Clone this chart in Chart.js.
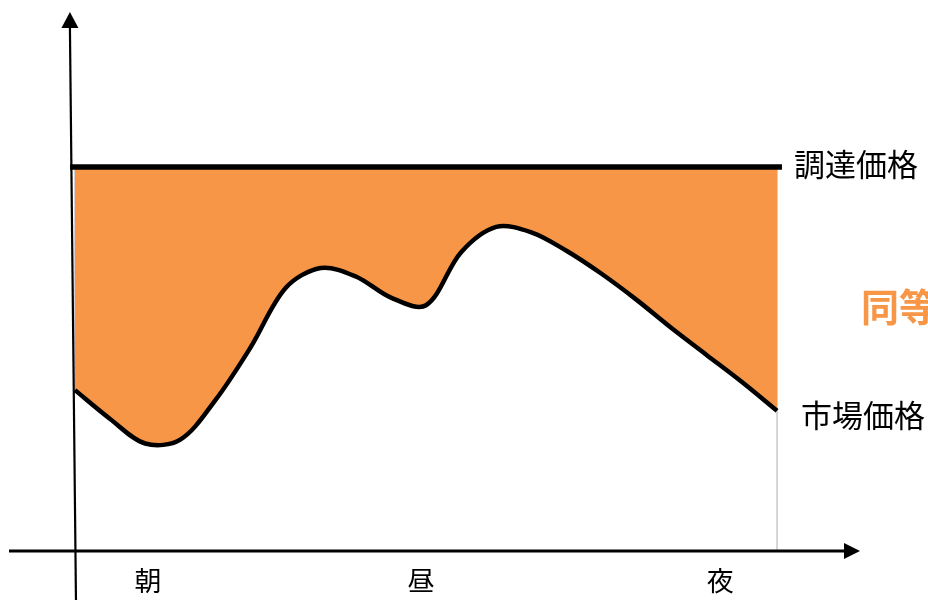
<!DOCTYPE html>
<html lang="ja">
<head>
<meta charset="utf-8">
<title>調達価格と市場価格</title>
<script src="https://cdn.jsdelivr.net/npm/chart.js@4/dist/chart.umd.min.js"></script>
<style>
  html, body { margin: 0; padding: 0; background: #ffffff; }
  #wrap { width: 928px; height: 600px; position: relative; }
</style>
</head>
<body>
<div id="wrap"><canvas id="c" width="928" height="600"></canvas></div>
<script>
// Time of day along the horizontal axis (0 = start of morning, 100 = night)
const timePoints = [0, 5, 10, 15, 20, 25, 30, 35, 40, 45, 50, 55, 60, 65, 70, 75, 80, 85, 90, 95, 100];
// Market price through the day
const marketPrice = [4.19, 3.44, 2.8, 2.9, 3.93, 5.3, 6.85, 7.37, 7.15, 6.6, 6.4, 7.78, 8.44, 8.3, 7.82, 7.22, 6.54, 5.8, 5.1, 4.4, 3.65];
// Fixed procurement price
const procurementPrice = 10;
const procurementSpan = [-0.7, 100.7];

// Time-of-day labels under the axis
const timeLabels = ['朝', '昼', '夜'];
const timeLabelPos = [10.4, 49.3, 91.9];

// Series names written at the right end of each line
const procurementName = '調達価格';
const marketName = '市場価格';
const sideNote = '同等';

const ORANGE = '#F79646';
const FONT = '"Noto Sans CJK JP", "Noto Sans", sans-serif';

const marketData = timePoints.map((t, i) => ({ x: t, y: marketPrice[i] }));
const procurementData = procurementSpan.map(t => ({ x: t, y: procurementPrice }));

// Axes with arrowheads, edge guides and text labels
const decorations = {
  id: 'decorations',
  beforeDatasetsDraw(chart) {
    const { ctx, scales: { x, y } } = chart;
    ctx.save();
    ctx.strokeStyle = '#c9c9c9';
    ctx.lineWidth = 1.5;
    const xl = x.getPixelForValue(timePoints[0]);
    const xr = x.getPixelForValue(timePoints[timePoints.length - 1]);
    ctx.beginPath();
    ctx.moveTo(xl, y.getPixelForValue(procurementPrice));
    ctx.lineTo(xl, y.getPixelForValue(marketPrice[0]));
    ctx.moveTo(xr, y.getPixelForValue(procurementPrice));
    ctx.lineTo(xr, y.getPixelForValue(0));
    ctx.stroke();
    ctx.restore();
  },
  afterDatasetsDraw(chart) {
    const { ctx, scales: { x, y } } = chart;
    const y0 = y.getPixelForValue(0);
    ctx.save();
    ctx.fillStyle = '#000';
    ctx.strokeStyle = '#000';

    // vertical (price) axis, leaning slightly
    const topY = 28, tipY = 12;
    const axTopX = x.getPixelForValue(-0.72);
    const axBotX = x.getPixelForValue(0.14);
    ctx.lineWidth = 2.2;
    ctx.beginPath();
    ctx.moveTo(axTopX, topY);
    ctx.lineTo(axBotX, chart.height);
    ctx.stroke();
    ctx.beginPath();
    ctx.moveTo(axTopX, tipY);
    ctx.lineTo(axTopX - 8.5, topY);
    ctx.lineTo(axTopX + 8.5, topY);
    ctx.closePath();
    ctx.fill();

    // horizontal (time) axis
    const xStart = 9, xEnd = 844, xTip = 860;
    ctx.lineWidth = 3;
    ctx.beginPath();
    ctx.moveTo(xStart, y0);
    ctx.lineTo(xEnd + 2, y0);
    ctx.stroke();
    ctx.beginPath();
    ctx.moveTo(xTip, y0);
    ctx.lineTo(xEnd, y0 - 8);
    ctx.lineTo(xEnd, y0 + 8);
    ctx.closePath();
    ctx.fill();

    // time-of-day labels
    ctx.font = '27px ' + FONT;
    ctx.textAlign = 'center';
    ctx.textBaseline = 'middle';
    timeLabels.forEach((lab, i) => {
      ctx.fillText(lab, x.getPixelForValue(timeLabelPos[i]), y0 + 30);
    });

    // series names
    ctx.textAlign = 'left';
    ctx.font = '31px ' + FONT;
    ctx.fillText(procurementName, 794, y.getPixelForValue(procurementPrice) - 3);
    ctx.fillText(marketName, 801, y.getPixelForValue(marketPrice[marketPrice.length - 1]) + 4);

    ctx.fillStyle = ORANGE;
    ctx.font = 'bold 38px ' + FONT;
    ctx.fillText(sideNote, 861, 307);
    ctx.restore();
  }
};

new Chart(document.getElementById('c'), {
  type: 'line',
  data: {
    datasets: [
      {
        label: marketName,
        data: marketData,
        borderColor: '#000',
        borderWidth: 4.5,
        backgroundColor: ORANGE,
        fill: { value: procurementPrice },
        tension: 0.33,
        pointRadius: 0,
        order: 2
      },
      {
        label: procurementName,
        data: procurementData,
        borderColor: '#000',
        borderWidth: 5.5,
        fill: false,
        pointRadius: 0,
        order: 1
      }
    ]
  },
  options: {
    responsive: false,
    animation: false,
    devicePixelRatio: 1,
    layout: { padding: 0 },
    plugins: { legend: { display: false }, tooltip: { enabled: false } },
    scales: {
      x: { type: 'linear', min: -10.68, max: 121.5, display: false },
      y: { type: 'linear', min: -1.276, max: 14.35, display: false }
    }
  },
  plugins: [decorations]
});
</script>
</body>
</html>
